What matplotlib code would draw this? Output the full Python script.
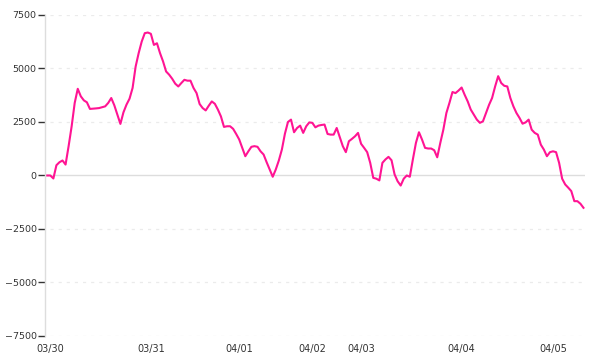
import matplotlib
matplotlib.use("Agg")
import matplotlib.pyplot as plt

values = [
    0, 0, -140, 480, 620, 700, 510, 1370, 2300, 3390, 4050, 3700, 3510, 3420,
    3110, 3120, 3135, 3150, 3190, 3230, 3390, 3620, 3280, 2840, 2410, 2950, 3310,
    3590, 4090, 5090, 5720, 6260, 6650, 6680, 6620, 6100, 6180,
    5720, 5330, 4860, 4710, 4520, 4290, 4160, 4320, 4470, 4430, 4430, 4090, 3850,
    3340, 3150, 3040, 3260, 3460, 3350, 3080, 2760, 2270, 2300, 2300, 2180, 1940,
    1680, 1290, 900, 1130, 1340, 1370, 1340, 1130, 980, 620, 280, -60, 280, 700,
    1210, 1950, 2500, 2610, 2020, 2220, 2330, 1990, 2300, 2480, 2460, 2250, 2330,
    2360, 2380, 1940, 1910, 1910, 2220, 1800, 1370, 1090, 1600, 1710, 1830, 1990,
    1480, 1290, 1090, 590, -110, -150, -230, 590, 750, 870, 710, 50, -270, -470,
    -150, 0,
    -60, 750, 1520, 2020, 1680, 1290, 1260, 1260, 1180, 850, 1520, 2140, 2920,
    3390, 3900, 3850, 3970, 4110, 3770, 3460, 3080, 2840, 2610, 2460, 2530, 2920,
    3300, 3620, 4160, 4640,
    4320, 4190, 4160, 3620, 3230, 2920, 2690, 2420, 2480, 2610, 2140, 1990, 1910,
    1440, 1210, 900, 1090, 1130, 1090, 590, -150, -420, -570, -730, -1200, -1200,
    -1320, -1510,
]
tick_index = [1, 34, 63, 87, 103, 136, 166]
tick_labels = ["03/30", "03/31", "04/01", "04/02", "04/03", "04/04", "04/05"]
y_ticks = [-7500, -5000, -2500, 0, 2500, 5000, 7500]

fig = plt.figure(figsize=(6, 3.6), dpi=100)
ax = fig.add_axes([0.075, 0.0667, 0.9, 0.8917])

x = list(range(len(values)))
for yv in y_ticks:
    if yv == 0:
        ax.axhline(0, color="#dddddd", lw=1.0, zorder=1)
    else:
        ax.axhline(yv, xmin=0.01, color="#ebebeb", lw=0.9, ls=(0, (2.5, 4)), zorder=1)

ax.plot(x, values, color="#ff1493", lw=1.5, zorder=3, solid_joinstyle="round")

ax.set_ylim(-7500, 7500)
ax.set_xlim(-0.75, len(values) - 0.5)
ax.set_yticks(y_ticks)
ax.set_yticklabels([str(v).replace("-", "\u2212") for v in y_ticks])
ax.set_xticks(tick_index)
ax.set_xticklabels(tick_labels)

for s in ["top", "right", "bottom"]:
    ax.spines[s].set_visible(False)
ax.spines["left"].set_color("#dddddd")
ax.spines["left"].set_linewidth(1.0)

ax.tick_params(axis="y", length=5, width=1, color="#333333", pad=1,
               labelsize=6.8, labelcolor="#333333")
ax.tick_params(axis="x", length=0, pad=6, labelsize=7, labelcolor="#333333")

fig.savefig("out.png", dpi=100)
